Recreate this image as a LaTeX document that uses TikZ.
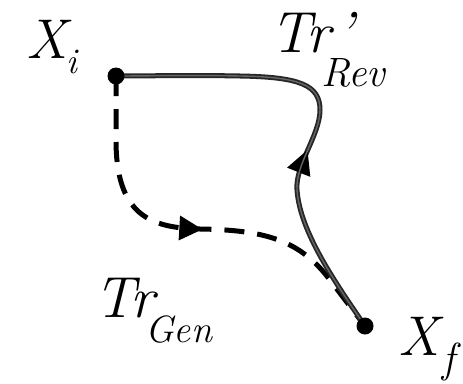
\documentclass[tikz,border=0pt]{standalone}
\usetikzlibrary{decorations.markings}
\begin{document}
\begin{tikzpicture}[x=1pt,y=-1pt,
  dot/.style={circle,fill=black,minimum size=17pt,inner sep=0pt},
  big/.style={inner sep=0pt,anchor=base west,font=\itshape\fontsize{56}{56}\selectfont},
  small/.style={inner sep=0pt,anchor=base west,font=\itshape\fontsize{36}{36}\selectfont},
  revpath/.style={line width=5pt,draw=black!85,line cap=round},
  revcore/.style={line width=1.4pt,draw=black!60,line cap=round},
  genpath/.style={line width=5pt,draw=black,dash pattern=on 20pt off 13pt},
  tri/.style={fill=black}]
\useasboundingbox (0,0) rectangle (463,383);
\coordinate (Xi) at (116,76);
\coordinate (Xf) at (365,326);
\coordinate (g1) at (116,140);
\coordinate (g2) at (200,229);
\coordinate (g3) at (330,280);
\coordinate (r1) at (297,190);
\coordinate (r2) at (320,110);
\coordinate (r3) at (240,76);
% generative path (dashed)
\draw[genpath, postaction={decorate}, decoration={markings,
    mark=at position 0.48 with {\fill[tri] (12pt,0pt) -- (-11pt,12.5pt) -- (-11pt,-12.5pt) -- cycle;}}]
  (Xi) -- (g1) .. controls (116,215) and (150,228) .. (g2)
  .. controls (265,230) and (300,240) .. (g3) -- (Xf);
% reverse path (solid)
\draw[revpath, postaction={decorate}, decoration={markings,
    mark=at position 0.40 with {\fill[tri] (12pt,0pt) -- (-12pt,12.5pt) -- (-12pt,-12.5pt) -- cycle;}}]
  (Xf) .. controls (335,282) and (300,232) .. (r1)
  .. controls (295,165) and (320,135) .. (r2)
  .. controls (320,85) and (300,77) .. (r3)
  .. controls (190,75) and (150,76) .. (Xi);
\draw[revcore]
  (Xf) .. controls (335,282) and (300,232) .. (r1)
  .. controls (295,165) and (320,135) .. (r2)
  .. controls (320,85) and (300,77) .. (r3)
  .. controls (190,75) and (150,76) .. (Xi);
% end points
\node[dot] (dXi) at (Xi) {};
\node[dot] (dXf) at (Xf) {};
% labels
\node[big] (lXi) at (26,58) {X};
\node[small] (lXisub) at (66,73) {i};
\node[big,font=\itshape\fontsize{58}{58}\selectfont] (lTr1) at (270,52) {\raisebox{0pt}[\height][0pt]{Tr\kern6pt’}};
\node[small,font=\itshape\fontsize{41}{41}\selectfont] (lRev) at (321,86) {Rev};
\node[big,font=\itshape\fontsize{58}{58}\selectfont] (lTr2) at (94,317) {Tr};
\node[small,font=\itshape\fontsize{38}{38}\selectfont] (lGen) at (145,342) {Gen};
\node[big] (lXf) at (398,355) {X};
\node[small,font=\itshape\fontsize{42}{42}\selectfont] (lXfsub) at (442,372) {f};
\end{tikzpicture}
\end{document}
